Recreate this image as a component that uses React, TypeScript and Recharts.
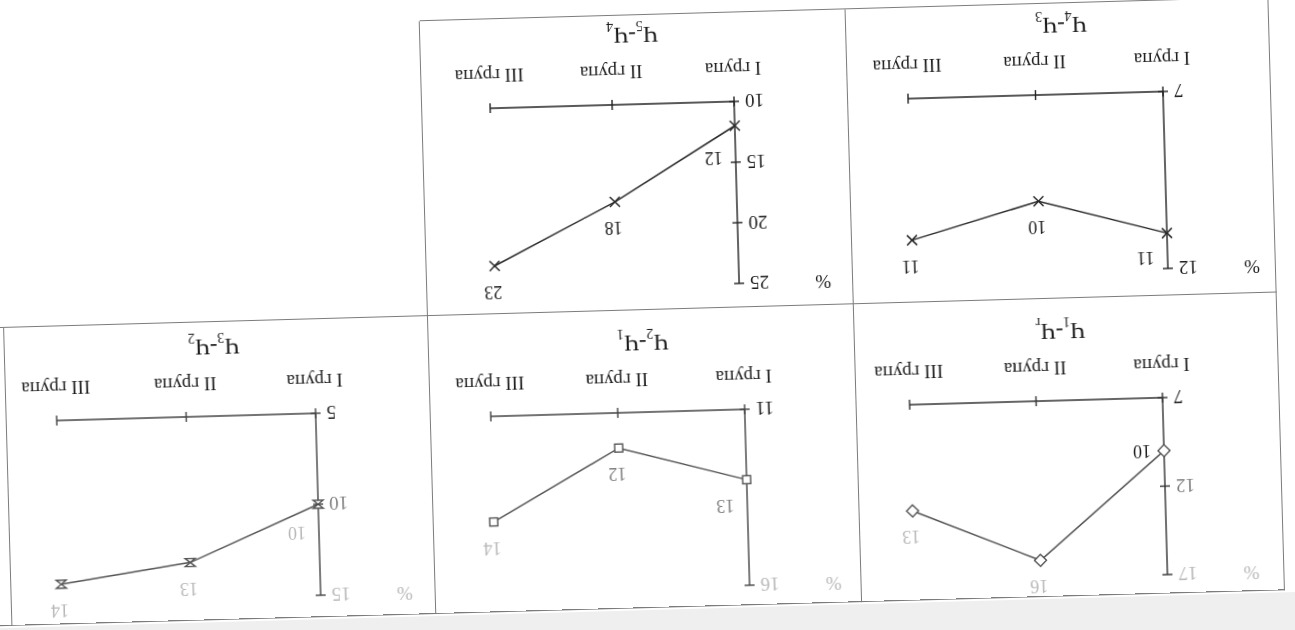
import { LineChart, Line, XAxis, YAxis, LabelList } from "recharts";

const groups = ["I група", "II група", "III група"];

// differences (%) between successive stages, per group
const ch1r = [10, 16, 13];
const ch21 = [13, 12, 14];
const ch32 = [10, 13, 14];
const ch43 = [11, 10, 11];
const ch54 = [12, 18, 23];

const ticks1r = [7, 12, 17];
const ticks21 = [11, 16];
const ticks32 = [5, 10, 15];
const ticks43 = [7, 12];
const ticks54 = [10, 15, 20, 25];

const FONT = '"Liberation Serif", "DejaVu Serif", serif';

// the scan fades towards one corner
const shade = (x: number, y: number) => {
  const s = y - 0.06 * x;
  if (s < 70) return "#b8b8b8";
  if (s < 125) return "#808080";
  return "#1c1c1c";
};

type Marker = "cross" | "diamond" | "square" | "hourglass";

const panels = [
  { sub: ["1", "r"], values: ch1r, ticks: ticks1r, marker: "diamond" as Marker, axisX: 135, top: 41, bottom: 218, right: 388, line: "#555", axis: "#333", firstDy: 0 },
  { sub: ["2", "1"], values: ch21, ticks: ticks21, marker: "square" as Marker, axisX: 553, top: 42, bottom: 218, right: 807, line: "#555", axis: "#444", firstDy: -26 },
  { sub: ["3", "2"], values: ch32, ticks: ticks32, marker: "hourglass" as Marker, axisX: 982, top: 44, bottom: 226, right: 1241, line: "#555", axis: "#444", firstDy: -28 },
  { sub: ["4", "3"], values: ch43, ticks: ticks43, marker: "cross" as Marker, axisX: 126, top: 347, bottom: 524, right: 381, line: "#2a2a2a", axis: "#222", firstDy: -24 },
  { sub: ["5", "4"], values: ch54, ticks: ticks54, marker: "cross" as Marker, axisX: 555, top: 344, bottom: 526, right: 799, line: "#2a2a2a", axis: "#222", firstDy: -32 },
];

function MarkerDot({ cx, cy, kind, color }: { cx: number; cy: number; kind: Marker; color: string }) {
  if (kind === "cross") {
    return (
      <g stroke={color} strokeWidth={1.5}>
        <line x1={cx - 5} y1={cy - 5} x2={cx + 5} y2={cy + 5} />
        <line x1={cx - 5} y1={cy + 5} x2={cx + 5} y2={cy - 5} />
      </g>
    );
  }
  if (kind === "diamond") {
    return <polygon points={`${cx},${cy - 6} ${cx + 6},${cy} ${cx},${cy + 6} ${cx - 6},${cy}`} fill="#fff" stroke={color} strokeWidth={1.4} />;
  }
  if (kind === "square") {
    return <rect x={cx - 4} y={cy - 4} width={8} height={8} fill="#fff" stroke={color} strokeWidth={1.4} />;
  }
  return <path d={`M${cx - 5},${cy - 4} L${cx + 5},${cy - 4} L${cx - 5},${cy + 4} L${cx + 5},${cy + 4} Z`} fill="#fff" stroke={color} strokeWidth={1.4} />;
}

function DiffChart({ p }: { p: (typeof panels)[number] }) {
  const padL = 100, padT = 30, padR = 40, padB = 60;
  const left = p.axisX - padL;
  const top = p.top - padT;
  const w = p.right - p.axisX + padL + padR;
  const h = p.bottom - p.top + padT + padB;
  const rows = groups.map((g, i) => ({ group: g, value: p.values[i] }));
  const domain = [p.ticks[0], p.ticks[p.ticks.length - 1]];

  const XTick = (props: any) => {
    const { x, y, payload } = props;
    return (
      <g>
        <line x1={x} x2={x} y1={y - 5} y2={y + 5} stroke={p.axis} strokeWidth={1.4} />
        <text x={x} y={y + 32} textAnchor="middle" dominantBaseline="central" fontSize={19} fontFamily={FONT} fill={shade(left + x, top + y + 32)}>
          {payload.value}
        </text>
      </g>
    );
  };

  const YTick = (props: any) => {
    const { x, y, payload } = props;
    return (
      <g>
        <line x1={x - 5} x2={x + 5} y1={y} y2={y} stroke={p.axis} strokeWidth={1.4} />
        <text x={x - 11} y={y} textAnchor="end" dominantBaseline="central" fontSize={19} fontFamily={FONT} fill={shade(left + x - 20, top + y)}>
          {payload.value}
        </text>
      </g>
    );
  };

  const ValueLabel = (props: any) => {
    const { x, y, value, index } = props;
    const lx = x + (index === 0 ? 22 : 2);
    const ly = y + (index === 0 ? p.firstDy : -26);
    return (
      <text x={lx} y={ly} textAnchor="middle" dominantBaseline="central" fontSize={18} fontFamily={FONT} fill={shade(left + lx, top + ly)}>
        {value}
      </text>
    );
  };

  return (
    <>
      <div style={{ position: "absolute", left, top }}>
        <LineChart width={w} height={h} data={rows} margin={{ top: padT, right: padR, bottom: padB - 30, left: padL - 60 }} style={{ overflow: "visible" }}>
          <XAxis
            dataKey="group"
            scale="point"
            padding={{ left: 0, right: 0 }}
            interval={0}
            height={30}
            tickLine={false}
            tickSize={0}
            tickMargin={0}
            axisLine={{ stroke: p.axis, strokeWidth: 1.4 }}
            tick={XTick}
          />
          <YAxis
            type="number"
            domain={domain}
            ticks={p.ticks}
            interval={0}
            width={60}
            tickLine={false}
            tickSize={0}
            tickMargin={0}
            axisLine={{ stroke: p.axis, strokeWidth: 1.4 }}
            tick={YTick}
          />
          <Line
            type="linear"
            dataKey="value"
            stroke={p.line}
            strokeWidth={1.5}
            isAnimationActive={false}
            dot={(d: any) => <MarkerDot key={`m-${d.index}`} cx={d.cx} cy={d.cy} kind={p.marker} color={p.line} />}
            activeDot={false}
          >
            <LabelList dataKey="value" content={ValueLabel} />
          </Line>
        </LineChart>
      </div>
      <div
        style={{
          position: "absolute",
          left: p.axisX + 100 - 70,
          width: 140,
          top: p.bottom + 70 - 15,
          textAlign: "center",
          fontSize: 23,
          lineHeight: "30px",
          color: "#1c1c1c",
        }}
      >
        Ч<sub style={{ fontSize: 14 }}>{p.sub[0]}</sub>-Ч<sub style={{ fontSize: 14 }}>{p.sub[1]}</sub>
      </div>
      <div
        style={{
          position: "absolute",
          left: p.axisX - 92,
          top: p.top - 12,
          fontSize: 19,
          lineHeight: "24px",
          color: shade(p.axisX - 82, p.top),
        }}
      >
        %
      </div>
    </>
  );
}

const ruleColor = "#7c7c7c";
const hLine = (x1: number, x2: number, y: number, key: string) => (
  <div key={key} style={{ position: "absolute", left: x1, top: y, width: x2 - x1, height: 1, background: ruleColor }} />
);
const vLine = (x: number, y1: number, y2: number, key: string) => (
  <div key={key} style={{ position: "absolute", left: x, top: y1, width: 1, height: y2 - y1, background: ruleColor }} />
);

export default function App() {
  return (
    <div
      style={{
        position: "fixed",
        left: 0,
        top: 0,
        width: 1295,
        height: 630,
        background: "#fff",
        transform: "rotate(178.4deg)",
        fontFamily: FONT,
      }}
    >
      <div style={{ position: "absolute", left: -40, top: -40, width: 1380, height: 60, background: "#efefef" }} />
      {hLine(18, 1325, 22, "h1")}
      {hLine(18, 1325, 320, "h2")}
      {hLine(18, 867, 615, "h3")}
      {vLine(18, 22, 615, "v1")}
      {vLine(441, 22, 615, "v2")}
      {vLine(867, 22, 615, "v3")}
      {vLine(1291, 22, 320, "v4")}
      {panels.map((p, i) => (
        <DiffChart key={i} p={p} />
      ))}
    </div>
  );
}
